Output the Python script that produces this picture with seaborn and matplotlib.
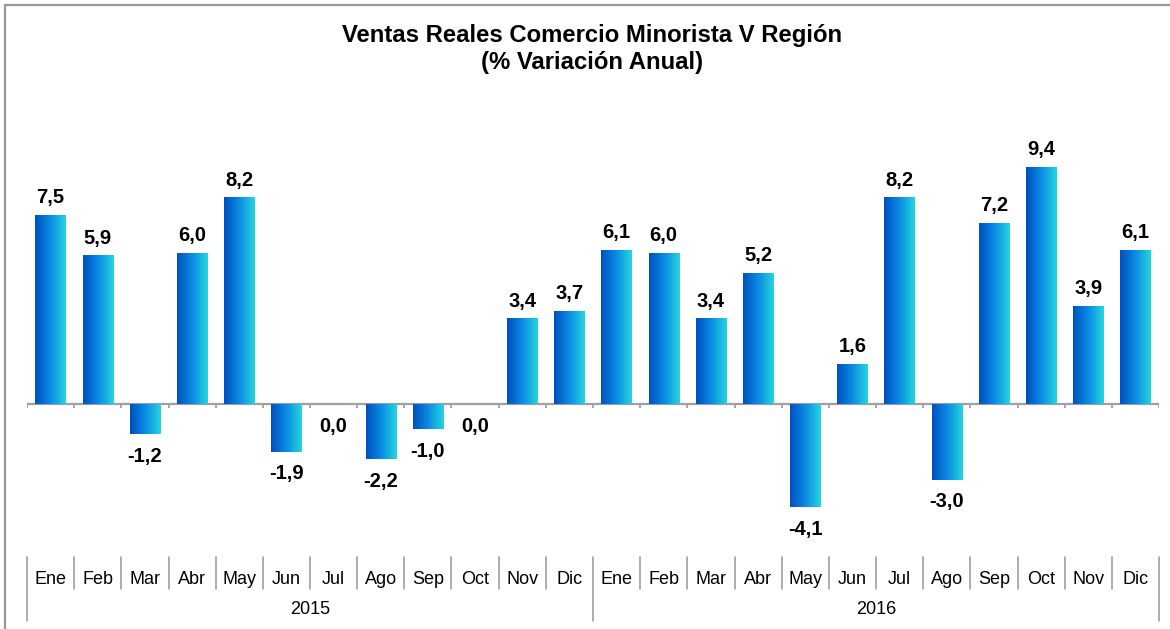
import numpy as np
import pandas as pd
import matplotlib
matplotlib.use("Agg")
import matplotlib.pyplot as plt
import seaborn as sns
from matplotlib.colors import LinearSegmentedColormap
from matplotlib.transforms import blended_transform_factory
from matplotlib.lines import Line2D

months = ["Ene", "Feb", "Mar", "Abr", "May", "Jun", "Jul", "Ago", "Sep", "Oct", "Nov", "Dic"]
years = ["2015", "2016"]
values_2015 = [7.5, 5.9, -1.2, 6.0, 8.2, -1.9, 0.0, -2.2, -1.0, 0.0, 3.4, 3.7]
values_2016 = [6.1, 6.0, 3.4, 5.2, -4.1, 1.6, 8.2, -3.0, 7.2, 9.4, 3.9, 6.1]
title = "Ventas Reales Comercio Minorista V Región\n(% Variación Anual)"

values = values_2015 + values_2016
df = pd.DataFrame({"pos": list(range(len(values))), "value": values, "month": months * 2})

sns.set_theme(style="white")
plt.rcParams["font.family"] = ["Liberation Sans", "DejaVu Sans"]

W, H = 1170, 629
PPU = 25.2   # pixels per unit
ZERO = 404
fig = plt.figure(figsize=(W / 100, H / 100), dpi=100)
ax = fig.add_axes([27 / W, 1 - 540 / H, 1132 / W, 410 / H])

sns.barplot(data=df, x="pos", y="value", ax=ax, width=0.64, color="#0A8FE6",
            saturation=1, errorbar=None)

cmap = LinearSegmentedColormap.from_list("grad", ["#0050BE", "#0A8CE4", "#26D6DE"])
grad = np.linspace(0, 1, 256).reshape(1, -1)
for p in list(ax.patches):
    x0, y0, w, h = p.get_x(), p.get_y(), p.get_width(), p.get_height()
    p.set_facecolor("none")
    p.set_edgecolor("none")
    if h == 0:
        continue
    im = ax.imshow(grad, extent=[x0, x0 + w, min(y0, y0 + h), max(y0, y0 + h)],
                   cmap=cmap, aspect="auto", zorder=3, interpolation="bilinear")
    im.set_clip_path(p)

gray = "#A0A0A0"
ax.axhline(0, color=gray, lw=1.6, zorder=2)
n = len(values)
bounds = np.arange(-0.5, n, 1.0)
ax.vlines(bounds, -4 / PPU, 0, color=gray, lw=1.3, zorder=2)

for i, v in enumerate(values):
    lab = f"{v:.1f}".replace(".", ",")
    if v > 0:
        ax.annotate(lab, (i, v), xytext=(0, 8.5), textcoords="offset points",
                    ha="center", va="baseline", fontsize=14.5, fontweight="bold", color="black")
    else:
        ax.annotate(lab, (i, v), xytext=(0, -9), textcoords="offset points",
                    ha="center", va="top", fontsize=14.5, fontweight="bold", color="black")

ax.set_xlim(-0.5, n - 0.5)
ax.set_ylim(-(540 - ZERO) / PPU, (ZERO - 130) / PPU)
ax.set_xticks([])
ax.set_yticks([])
ax.set_xlabel("")
ax.set_ylabel("")
sns.despine(ax=ax, left=True, bottom=True)

tr = blended_transform_factory(ax.transData, fig.transFigure)
fy = lambda px: 1 - px / H
for b in bounds:
    idx = int(round(b + 0.5))
    is_year = idx % 12 == 0
    y_end = 621 if is_year else 589
    fig.add_artist(Line2D([b, b], [fy(557), fy(y_end)], transform=tr, color=gray, lw=1.2))
for i in range(n):
    fig.text(i, fy(579), months[i % 12], transform=tr, ha="center", va="center",
             fontsize=13, color="black")
for k, yr in enumerate(years):
    fig.text(k * 12 + 5.5, fy(609), yr, transform=tr, ha="center", va="center",
             fontsize=13, color="black")

fig.text(592 / W, fy(49), title, ha="center", va="center", fontsize=17.2,
         fontweight="bold", color="black", linespacing=1.2)

fig.add_artist(Line2D([5 / W, 1], [fy(5), fy(5)], color="#999999", lw=1.6))
fig.add_artist(Line2D([5 / W, 5 / W], [0, fy(5)], color="#999999", lw=1.6))

fig.savefig("out.png", dpi=100, facecolor="white")
